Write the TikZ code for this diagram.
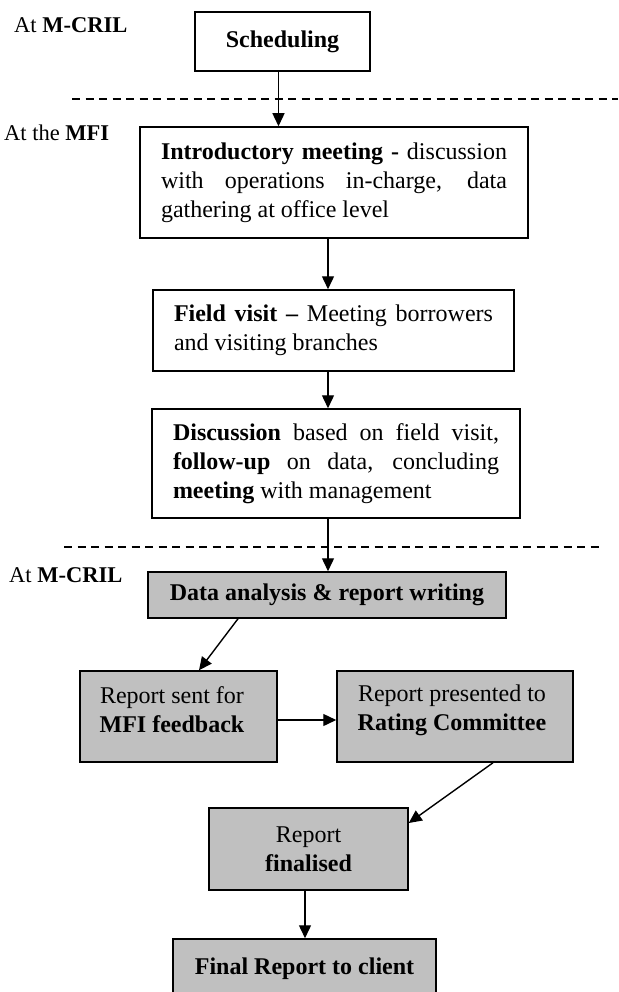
\documentclass[tikz,border=0pt]{standalone}
\usepackage{fontspec}
\setmainfont{Liberation Serif}
\usetikzlibrary{arrows.meta}
\definecolor{boxgrey}{RGB}{192,192,192}
\begin{document}
\begin{tikzpicture}[x=1pt,y=-1pt,
  box/.style={draw=black, line width=1.5pt, fill=white, inner sep=0pt, font=\fontsize{24}{29}\selectfont, align=center},
  greybox/.style={box, fill=boxgrey},
  txt/.style={inner sep=0pt, font=\fontsize{24}{29}\selectfont, align=center},
  side/.style={inner sep=0pt, anchor=west, font=\fontsize{22.5}{27}\selectfont},
  arr/.style={line width=1.4pt, -{Triangle[length=13pt,width=12pt]}},
  sep/.style={line width=1.2pt, dash pattern=on 8pt off 5.5pt}]
\useasboundingbox (0,0) rectangle (618,992);

% side labels
\node[side] (lab1) at (14,25) {At \textbf{M-CRIL}};
\node[side] (lab2) at (4,133) {At the \textbf{MFI}};
\node[side] (lab3) at (9,575) {At \textbf{M-CRIL}};

% separators
\draw[sep] (72,99) -- (618,99);
\draw[sep] (64,547) -- (600,547);

% boxes
\node[box, minimum width=175pt, minimum height=59pt] (sched) at (282.5,41.5) {\textbf{Scheduling}};
\node[box, minimum width=388pt, minimum height=111pt, align=left] (intro) at (334,182.5)
  {\makebox[346pt][s]{\textbf{Introductory meeting -} discussion}\\
   \makebox[346pt][s]{with operations in-charge, data}\\
   gathering at office level};
\node[box, minimum width=361pt, minimum height=81pt, align=left] (field) at (333.5,330.5)
  {\makebox[319pt][s]{\textbf{Field visit –} Meeting borrowers}\\
   and visiting branches};
\node[box, minimum width=368pt, minimum height=109pt, align=left] (disc) at (336,463.5)
  {\makebox[326pt][s]{\textbf{Discussion} based on field visit,}\\
   \makebox[326pt][s]{\textbf{follow-up} on data, concluding}\\
   \textbf{meeting} with management};
\node[greybox, minimum width=358pt, minimum height=46pt] (data) at (327,595) {\textbf{Data analysis \& report writing}};
\node[greybox, minimum width=197pt, minimum height=91pt] (sent) at (178.5,716.5) {};
\node[txt] (sentT) at (172,710) {Report sent for\\\textbf{MFI feedback}};
\node[greybox, minimum width=236pt, minimum height=91pt] (rating) at (455,716.5) {};
\node[txt] (ratingT) at (452,710) {Report presented to\\\textbf{Rating Committee}};
\node[greybox, minimum width=199pt, minimum height=82pt] (final) at (308.5,849) {Report\\\textbf{finalised}};
\node[greybox, minimum width=263pt, minimum height=60pt] (client) at (304.5,969) {\textbf{Final Report to client}};

% connectors
\draw[arr] ([xshift=-4pt]sched.south) -- ([xshift=-4pt]sched.south |- intro.north);
\draw[arr] ([xshift=-6pt]intro.south) -- ([xshift=-6pt]intro.south |- field.north);
\draw[arr] ([xshift=-6pt]intro.south |- field.south) -- ([xshift=-6pt]intro.south |- disc.north);
\draw[arr] ([xshift=-6pt]intro.south |- disc.south) -- ([xshift=-6pt]intro.south |- data.north);
\draw[arr] ([xshift=-89pt]data.south) -- ([xshift=20.5pt]sent.north);
\draw[arr] ([yshift=-3.5pt]sent.east) -- ([yshift=-3.5pt]rating.west);
\draw[arr] ([xshift=38pt]rating.south) -- ([yshift=26pt]final.east);
\draw[arr] ([xshift=-3.5pt]final.south) -- ([xshift=-3.5pt]final.south |- client.north);
\end{tikzpicture}
\end{document}
